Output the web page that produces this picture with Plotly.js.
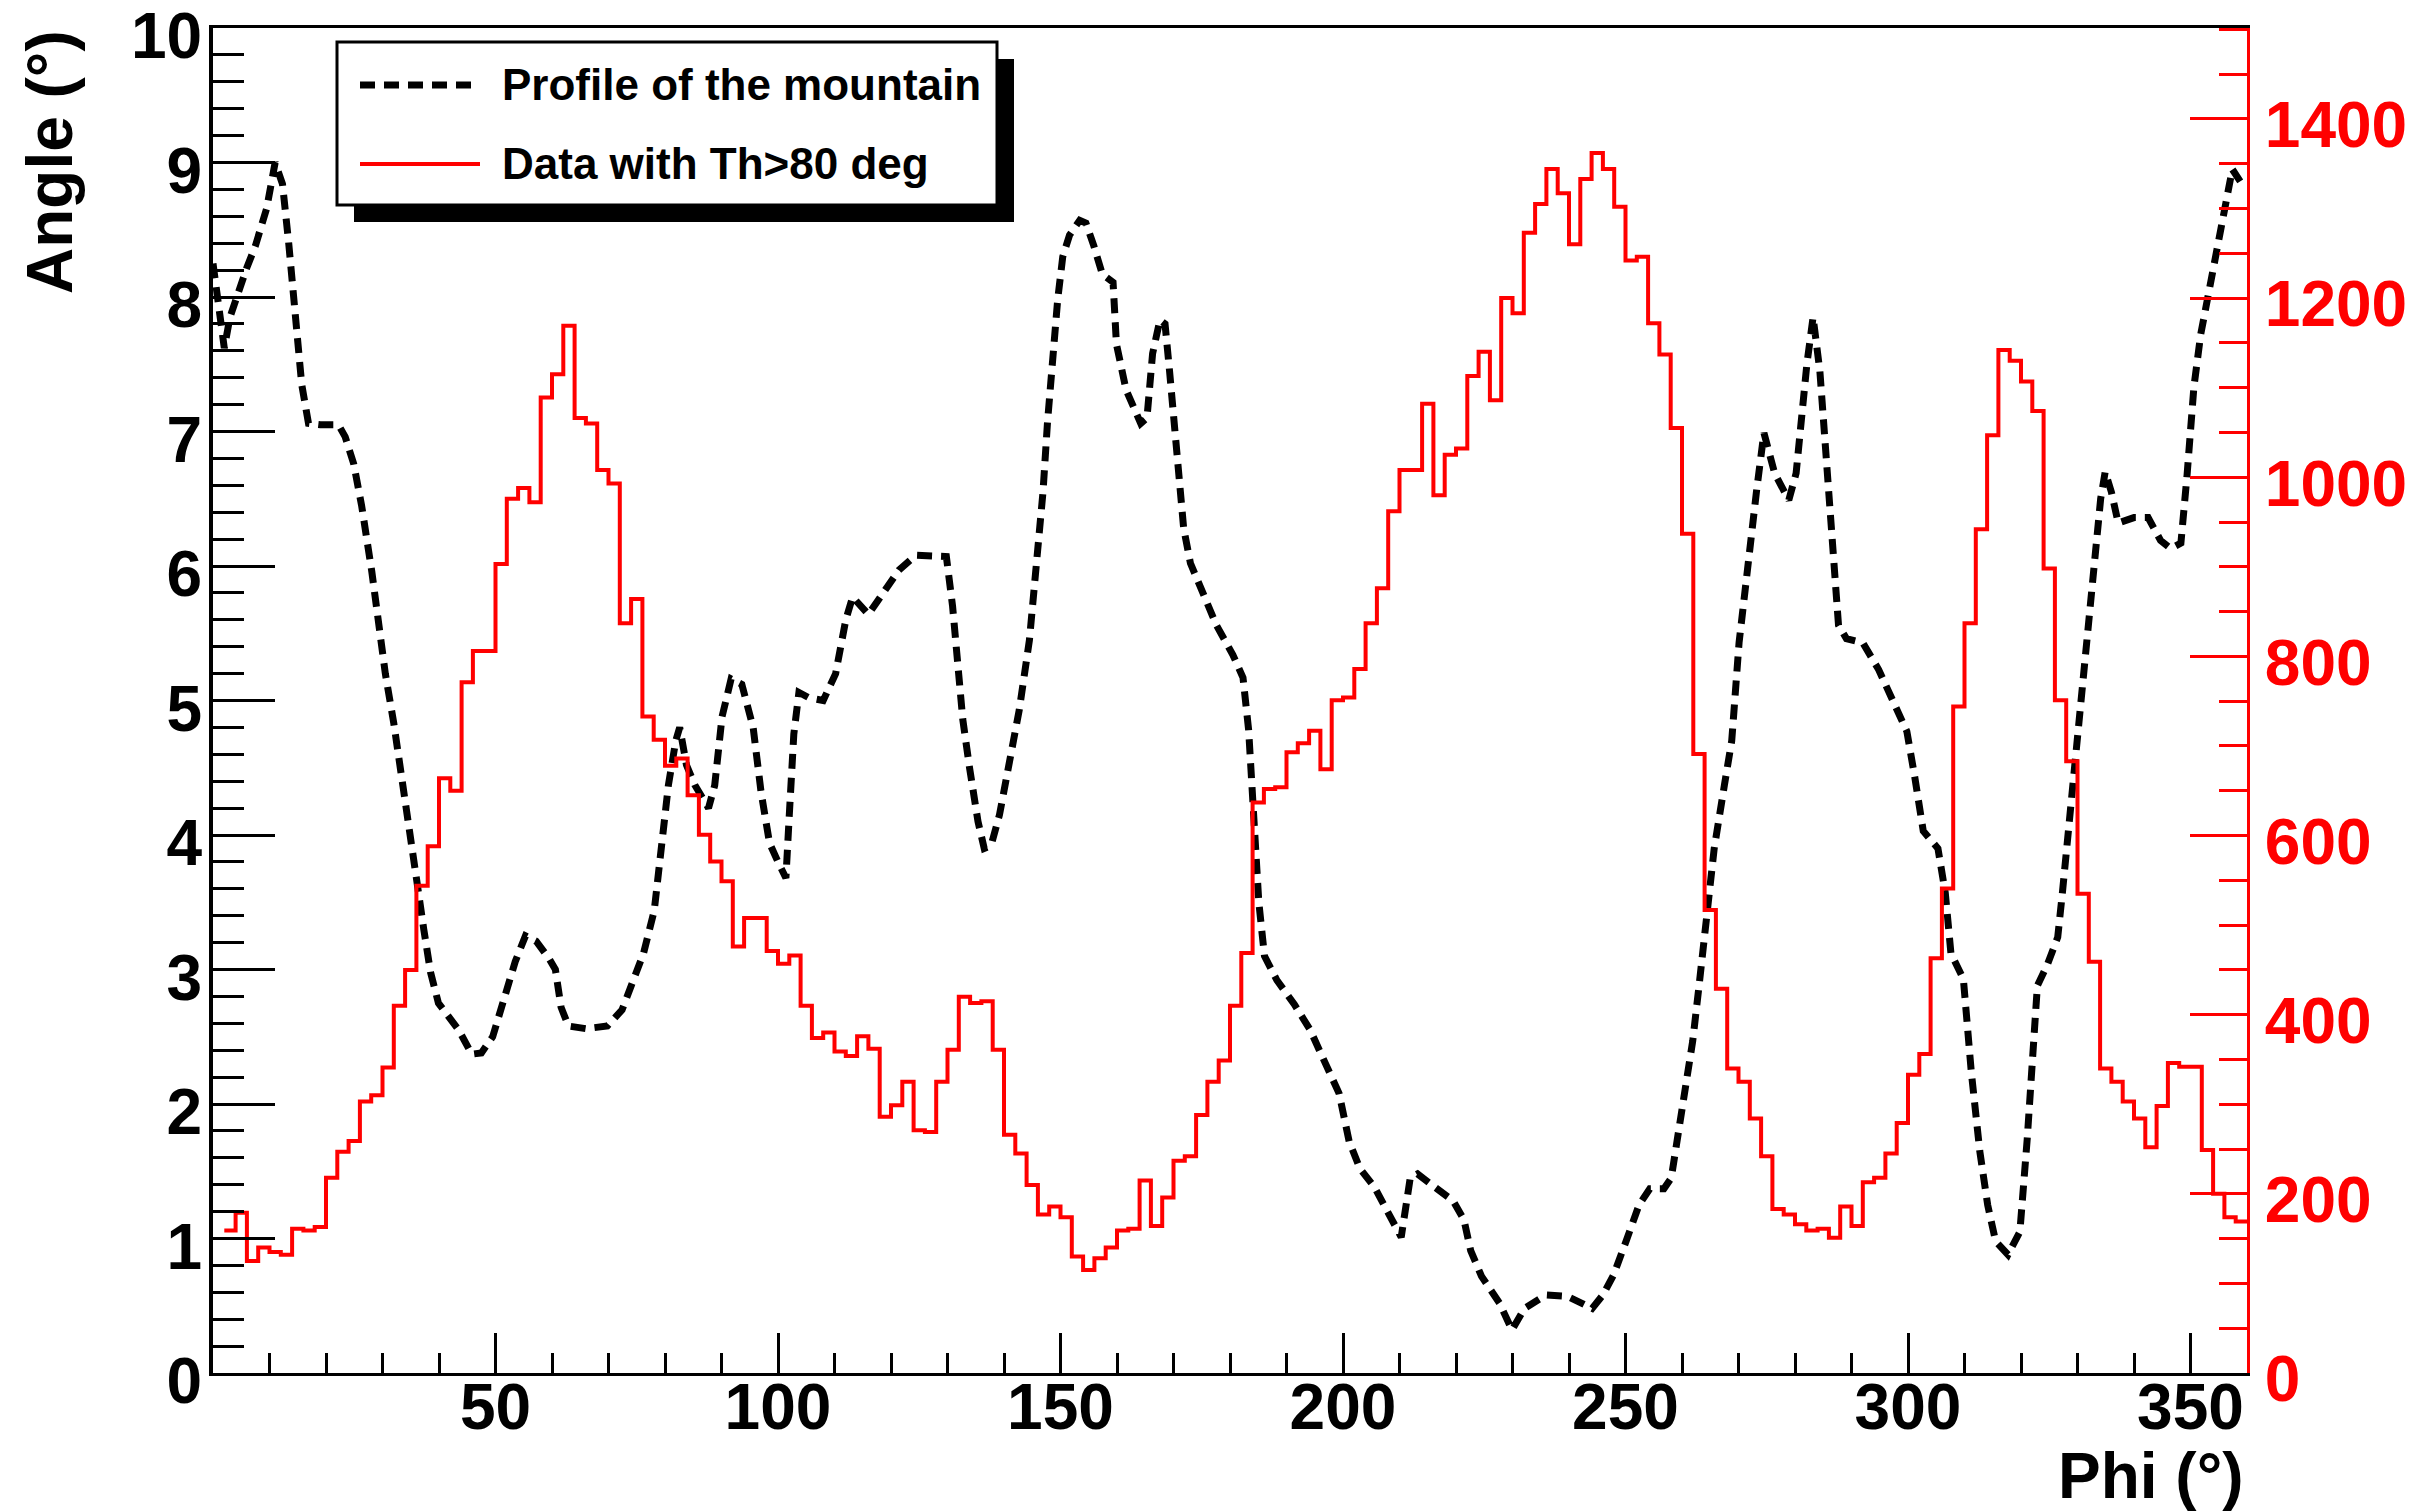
<!DOCTYPE html>
<html>
<head>
<meta charset="utf-8">
<script src="https://cdn.plot.ly/plotly-3.0.1.min.js"></script>
<style>
html, body { margin: 0; padding: 0; background: #ffffff; }
#chart { width: 2432px; height: 1512px; }
</style>
</head>
<body>
<div id="chart"></div>
<script>
// ---------------- DATA ----------------
// Profile of the mountain (black dashed): phi (deg) and elevation angle (deg)
const profilePhi = [
  0, 1, 2, 3, 4.5, 6, 7.5, 9.5, 11, 12.3,
  13.4, 14.5, 15.7, 16.9, 19, 22.2, 23.4, 24.9, 26.3, 28.1,
  29.3, 30.5, 32, 33.4, 34.9, 36.1, 37.3, 38.5, 39.9, 41.5,
  43.5, 45.8, 47.5, 49.5, 51.5, 53.5, 55.3, 57.2, 59.5, 60.6,
  61.6, 62.9, 66, 69.8, 72.4, 74.3, 76.2, 78.1, 79.3, 80.6,
  81.9, 82.6, 83.8, 85.3, 87.7, 88.8, 90.1, 91.7, 93.6, 95.6,
  97, 98.5, 100, 101.4, 102, 102.8, 103.7, 105.5, 108, 110.2,
  112, 113.2, 116, 118.5, 121.4, 124.4, 127.4, 129.8, 130.9, 131.8,
  132.7, 133.9, 135.4, 136.5, 137.7, 139.2, 141, 142.7, 144.5, 145.7,
  146.9, 147.7, 148.6, 149.5, 150.4, 151.6, 153.4, 154.5, 155.9, 157.4,
  159.3, 159.9, 161.6, 164.2, 165.3, 166.3, 167.6, 168.5, 169.3, 170.3,
  171.3, 171.8, 173, 175, 177.6, 180.5, 182.3, 183.3, 184.2, 185.1,
  186.1, 188.3, 191.4, 194.2, 196.9, 199.3, 201.1, 203, 205.6, 208.1,
  210.3, 211.9, 213.2, 216.3, 219.5, 221.4, 222.6, 224.5, 227.7, 229.9,
  232.1, 235.9, 239.7, 242.2, 244.1, 246, 247.9, 250.1, 252.4, 254.3,
  256.8, 258.1, 259.3, 260.6, 261.9, 263.1, 264.4, 265.7, 267.5, 268.8,
  270.1, 271.3, 273.2, 274.5, 276.4, 278.9, 280.2, 282.1, 283.2, 284.4,
  285.5, 286.6, 287.7, 289.1, 292, 294.8, 297.7, 299.8, 301.2, 302.7,
  305.3, 306.6, 307.6, 309.8, 311.2, 312.7, 314.1, 315.5, 317.7, 319.8,
  321.1, 322, 322.9, 324.7, 326.5, 327.3, 328.2, 329.4, 330.6, 331.7,
  332.9, 334.1, 334.9, 336, 337.2, 340, 342.5, 344.7, 346.5, 348.3,
  349.4, 350.6, 351.8, 353.6, 355.3, 357.4, 358.8
];
const profileAngle = [
  8.25, 7.95, 7.62, 7.85, 8.05, 8.22, 8.38, 8.66, 9.0, 8.84,
  8.4, 7.85, 7.35, 7.06, 7.05, 7.05, 6.96, 6.76, 6.45, 5.96,
  5.55, 5.2, 4.83, 4.45, 4.0, 3.65, 3.3, 2.98, 2.75, 2.66,
  2.55, 2.37, 2.38, 2.5, 2.78, 3.06, 3.25, 3.21, 3.08, 3.0,
  2.72, 2.58, 2.56, 2.58, 2.7, 2.9, 3.12, 3.44, 3.9, 4.37,
  4.7, 4.8, 4.52, 4.37, 4.2, 4.37, 4.88, 5.16, 5.12, 4.8,
  4.32, 3.94, 3.8, 3.68, 4.15, 4.75, 5.06, 5.02, 5.0, 5.2,
  5.6, 5.77, 5.64, 5.8, 5.97, 6.08, 6.08, 6.07, 5.7, 5.2,
  4.86, 4.5, 4.1, 3.9, 3.92, 4.15, 4.54, 4.93, 5.45, 5.96,
  6.55, 7.07, 7.59, 7.98, 8.3, 8.46, 8.57, 8.55, 8.38, 8.17,
  8.11, 7.65, 7.31, 7.06, 7.1, 7.58, 7.83, 7.8, 7.45, 7.0,
  6.55, 6.28, 6.02, 5.82, 5.56, 5.34, 5.17, 4.78, 4.1, 3.5,
  3.1, 2.92, 2.74, 2.55, 2.3, 2.08, 1.72, 1.52, 1.38, 1.18,
  1.01, 1.45, 1.48, 1.38, 1.28, 1.14, 0.91, 0.72, 0.52, 0.32,
  0.48, 0.58, 0.57, 0.52, 0.48, 0.58, 0.73, 0.98, 1.25, 1.37,
  1.37, 1.45, 1.78, 2.11, 2.47, 2.91, 3.44, 3.9, 4.37, 4.7,
  5.43, 5.89, 6.56, 6.99, 6.69, 6.49, 6.69, 7.5, 7.85, 7.45,
  6.76, 6.16, 5.56, 5.46, 5.43, 5.23, 4.96, 4.77, 4.43, 4.03,
  3.9, 3.57, 3.12, 2.93, 2.24, 1.65, 1.25, 0.98, 0.88, 1.05,
  1.74, 2.39, 2.88, 3.04, 3.24, 3.56, 3.95, 4.47, 4.92, 5.51,
  6.03, 6.5, 6.7, 6.55, 6.32, 6.36, 6.36, 6.19, 6.13, 6.17,
  6.68, 7.33, 7.72, 8.11, 8.43, 8.95, 8.86
];

// Histogram "Data with Th>80 deg": 2-degree bins starting at phi = 2
const histBinStart = 2;
const histBinWidth = 2;
const histCounts = [
  159, 179, 125, 140, 135, 132, 161, 159, 163, 218,
  247, 259, 303, 310, 341, 410, 450, 544, 588, 664,
  650, 771, 806, 806, 903, 976, 988, 972, 1089, 1115,
  1169, 1066, 1060, 1008, 993, 837, 864, 733, 707, 678,
  686, 645, 601, 571, 549, 476, 508, 508, 471, 457,
  466, 410, 374, 380, 359, 354, 376, 362, 286, 299,
  325, 271, 269, 325, 361, 420, 413, 415, 361, 266,
  245, 210, 177, 186, 174, 130, 115, 128, 140, 159,
  161, 215, 164, 196, 237, 242, 288, 325, 349, 410,
  469, 637, 652, 654, 693, 703, 717, 674, 751, 754,
  786, 837, 876, 962, 1008, 1008, 1082, 980, 1025, 1032,
  1113, 1140, 1086, 1200, 1183, 1273, 1305, 1344, 1317, 1260,
  1333, 1362, 1344, 1302, 1242, 1246, 1172, 1137, 1055, 937,
  691, 517, 429, 340, 325, 284, 242, 183, 177, 166,
  159, 161, 151, 186, 164, 213, 218, 245, 279, 333,
  356, 463, 541, 744, 837, 942, 1047, 1142, 1130, 1107,
  1074, 898, 751, 683, 535, 459, 340, 325, 303, 284,
  252, 298, 346, 342, 342, 249, 200, 174, 169
];

const xTickVals = [50, 100, 150, 200, 250, 300, 350];
const xTickText = ['50', '100', '150', '200', '250', '300', '350'];
const legendLabels = ['Profile of the mountain', 'Data with Th>80 deg'];
const xTitle = 'Phi (°)';
const yTitle = 'Angle (°)';

// ---------------- BUILD ----------------
const histX = [];
const histY = [];
histCounts.forEach(function (c, i) {
  histX.push(histBinStart + i * histBinWidth);
  histY.push(c);
});
histX.push(histBinStart + histCounts.length * histBinWidth);
histY.push(histCounts[histCounts.length - 1]);

const xMinorVals = [];
for (let v = 10; v < 360; v += 10) { if (v % 50 !== 0) xMinorVals.push(v); }

const FONT = 'Liberation Sans, Arial, Helvetica, sans-serif';
const tickFontBlack = { family: FONT, size: 64, color: '#000000', weight: 'bold' };
const tickFontRed = { family: FONT, size: 64, color: '#ff0000', weight: 'bold' };

const traces = [
  {
    x: profilePhi, y: profileAngle, type: 'scatter', mode: 'lines',
    line: { color: '#000000', width: 7, dash: '15px,9px' },
    yaxis: 'y', xaxis: 'x', hoverinfo: 'skip', name: legendLabels[0]
  },
  {
    x: histX, y: histY, type: 'scatter', mode: 'lines',
    line: { color: '#ff0000', width: 4, shape: 'hv' },
    yaxis: 'y2', xaxis: 'x', hoverinfo: 'skip', name: legendLabels[1]
  }
];

// paper-coordinate helpers for legend decoration (pixel -> paper)
const PL = 213, PR = 2247, PT = 28, PB = 1373;
const px = function (x) { return (x - PL) / (PR - PL); };
const py = function (y) { return (PB - y) / (PB - PT); };

const layout = {
  width: 2432, height: 1512,
  margin: { l: PL, r: 2432 - PR, t: PT, b: 1512 - PB, pad: 0 },
  paper_bgcolor: '#ffffff', plot_bgcolor: '#ffffff',
  showlegend: false,
  xaxis: {
    range: [0, 360], showgrid: false, zeroline: false,
    showline: true, linecolor: '#000000', linewidth: 3, mirror: true,
    tickmode: 'array', tickvals: xTickVals, ticktext: xTickText,
    ticks: 'inside', ticklen: 40, tickwidth: 3, tickcolor: '#000000',
    minor: { tickmode: 'array', tickvals: xMinorVals, ticks: 'inside', ticklen: 20, tickwidth: 3, tickcolor: '#000000', showgrid: false },
    tickfont: tickFontBlack, ticklabelstandoff: -24, ticklabeloverflow: 'allow'
  },
  yaxis: {
    range: [0, 10], showgrid: false, zeroline: false,
    showline: true, linecolor: '#000000', linewidth: 4, mirror: false,
    tickmode: 'linear', tick0: 0, dtick: 1,
    ticks: 'inside', ticklen: 62, tickwidth: 3, tickcolor: '#000000',
    minor: { dtick: 0.2, ticks: 'inside', ticklen: 31, tickwidth: 3, tickcolor: '#000000', showgrid: false },
    tickfont: tickFontBlack, ticklabelstandoff: -6, ticklabelshift: 8, ticklabeloverflow: 'allow'
  },
  yaxis2: {
    overlaying: 'y', side: 'right', anchor: 'x',
    range: [0, 1501.5], showgrid: false, zeroline: false,
    showline: true, linecolor: '#ff0000', linewidth: 3,
    tickmode: 'linear', tick0: 0, dtick: 200,
    ticks: 'inside', ticklen: 57, tickwidth: 3, tickcolor: '#ff0000',
    minor: { dtick: 50, ticks: 'inside', ticklen: 28, tickwidth: 3, tickcolor: '#ff0000', showgrid: false },
    tickfont: tickFontRed, ticklabelstandoff: 2, ticklabelshift: 6, ticklabeloverflow: 'allow'
  },
  shapes: [
    // legend shadow
    { type: 'rect', xref: 'paper', yref: 'paper', layer: 'above',
      x0: px(354), x1: px(1014), y0: py(222), y1: py(59),
      fillcolor: '#000000', line: { width: 0 } },
    // legend box
    { type: 'rect', xref: 'paper', yref: 'paper', layer: 'above',
      x0: px(337), x1: px(997), y0: py(205), y1: py(42),
      fillcolor: '#ffffff', line: { color: '#000000', width: 3 } },
    // legend samples
    { type: 'line', xref: 'paper', yref: 'paper', layer: 'above',
      x0: px(360), x1: px(480), y0: py(85), y1: py(85),
      line: { color: '#000000', width: 7, dash: '15px,9px' } },
    { type: 'line', xref: 'paper', yref: 'paper', layer: 'above',
      x0: px(360), x1: px(480), y0: py(164), y1: py(164),
      line: { color: '#ff0000', width: 4 } }
  ],
  annotations: [
    { text: legendLabels[0], xref: 'paper', yref: 'paper', x: px(500), y: py(85),
      xanchor: 'left', yanchor: 'middle', showarrow: false,
      font: { family: FONT, size: 44, color: '#000000', weight: 'bold' } },
    { text: legendLabels[1], xref: 'paper', yref: 'paper', x: px(500), y: py(163),
      xanchor: 'left', yanchor: 'middle', showarrow: false,
      font: { family: FONT, size: 44, color: '#000000', weight: 'bold' } },
    { text: yTitle, xref: 'paper', yref: 'paper', x: px(50), y: 1,
      xanchor: 'center', yanchor: 'top', textangle: -90, showarrow: false,
      font: { family: FONT, size: 64, color: '#000000', weight: 'bold' } },
    { text: xTitle, xref: 'paper', yref: 'paper', x: px(2246), y: py(1476),
      xanchor: 'right', yanchor: 'middle', showarrow: false,
      font: { family: FONT, size: 64, color: '#000000', weight: 'bold' } }
  ]
};

Plotly.newPlot('chart', traces, layout, { staticPlot: true, displayModeBar: false });
</script>
</body>
</html>
